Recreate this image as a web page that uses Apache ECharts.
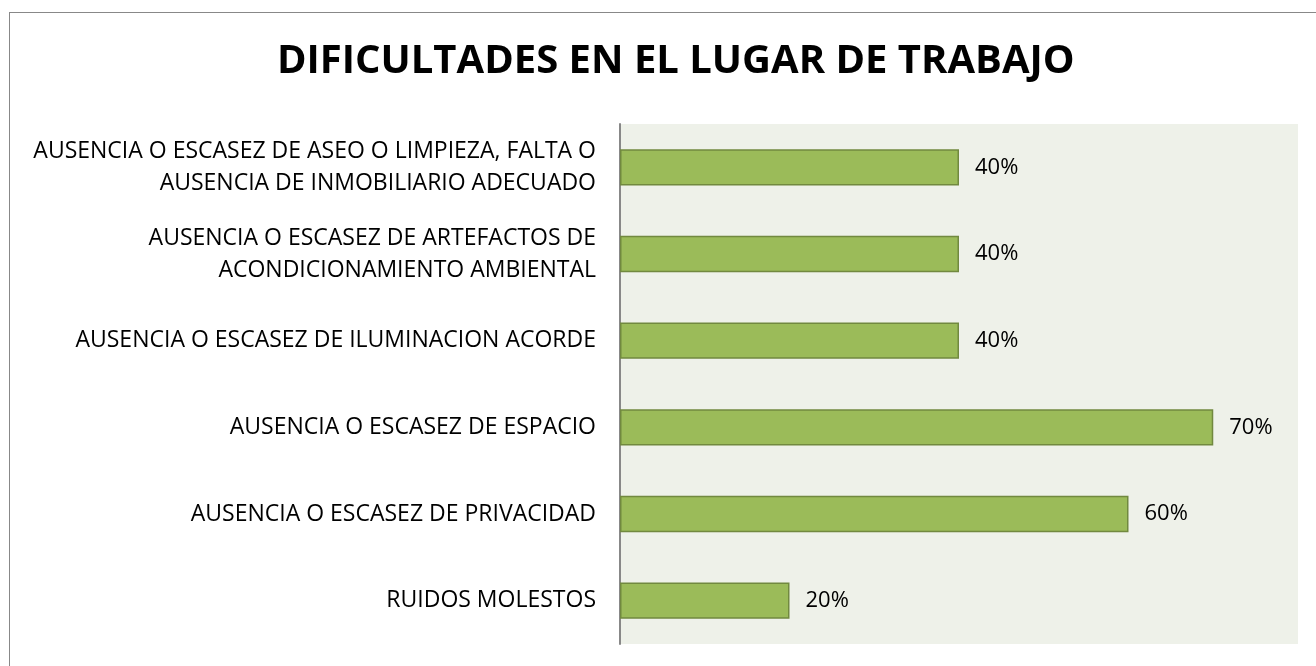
<!DOCTYPE html>
<html>
<head>
    <meta charset="utf-8">
    <title>chart</title>
    <style>
        html, body { margin: 0; padding: 0; background: #fff; overflow: hidden; }
        #frame {
            position: absolute;
            left: 9px; top: 12px;
            width: 1330px; height: 680px;
            border: 1px solid #888;
            box-sizing: border-box;
        }
        #main { position: absolute; left: 0; top: 0; width: 1316px; height: 666px; }
    </style>
    <script src="https://cdn.jsdelivr.net/npm/echarts@6/dist/echarts.min.js"></script>
</head>
<body>
<div id="frame"></div>
<div id="main"></div>
<script>
    // categories, top to bottom
    let categories = [
        'AUSENCIA O ESCASEZ DE ASEO O LIMPIEZA, FALTA O\nAUSENCIA DE INMOBILIARIO ADECUADO',
        'AUSENCIA O ESCASEZ DE ARTEFACTOS DE\nACONDICIONAMIENTO AMBIENTAL',
        'AUSENCIA O ESCASEZ DE ILUMINACION ACORDE',
        'AUSENCIA O ESCASEZ DE ESPACIO',
        'AUSENCIA O ESCASEZ DE PRIVACIDAD',
        'RUIDOS MOLESTOS'
    ]
    let values = [40, 40, 40, 70, 60, 20]

    echarts.init(document.getElementById('main')).setOption({
        animation: false,
        textStyle: { fontFamily: '"Open Sans", "Liberation Sans", sans-serif' },
        title: {
            text: 'DIFICULTADES EN EL LUGAR DE TRABAJO',
            left: 272,
            top: 37,
            textStyle: { fontSize: 40, fontWeight: 'bold', color: '#000' }
        },
        grid: {
            left: 620, right: 18, top: 124, bottom: 22,
            show: true, backgroundColor: '#EEF1E9', borderWidth: 0
        },
        xAxis: {
            type: 'value',
            min: 0, max: 80,
            show: false
        },
        yAxis: {
            type: 'category',
            inverse: true,
            data: categories,
            axisLine: { show: true, lineStyle: { color: '#888', width: 2 } },
            axisTick: { show: false },
            axisLabel: {
                color: '#000', fontSize: 23, lineHeight: 32, margin: 24, align: 'right'
            }
        },
        series: [{
            type: 'bar',
            data: values,
            barCategoryGap: '58%',
            itemStyle: { color: '#9BBB59', borderColor: '#71893F', borderWidth: 1.5 },
            label: {
                show: true,
                position: 'right',
                distance: 16,
                formatter: '{c}%',
                color: '#000',
                fontSize: 22
            }
        }]
    }, true);
</script>
</body>
</html>
